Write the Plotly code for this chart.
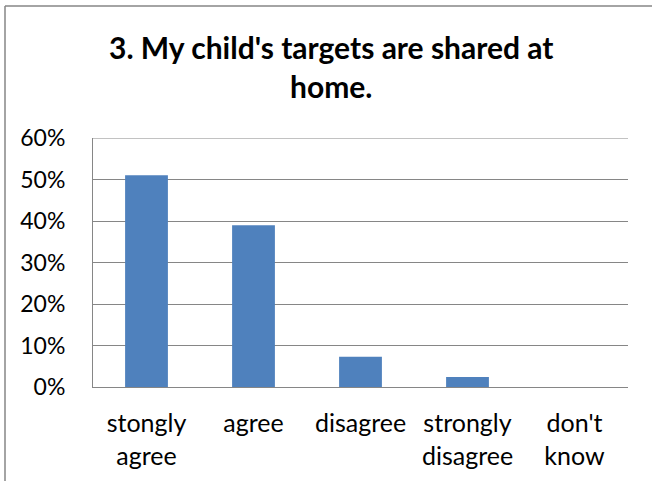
import plotly.graph_objects as go

categories = ["stongly<br>agree", "agree", "disagree", "strongly<br>disagree", "don't<br>know"]
values = [0.51, 0.39, 0.073, 0.024, 0.0]
y_ticks = [0, 0.1, 0.2, 0.3, 0.4, 0.5, 0.6]
y_tick_labels = ["0%", "10%", "20%", "30%", "40%", "50%", "60%"]
title_lines = ["3. My child's targets are shared at", "home."]

W, H = 652, 481
L, R, T, B = 93, 24, 138, 94
pw, ph = W - L - R, H - T - B

def px_x(x):
    return (x - L) / pw

def px_y(y):
    return (H - B - y) / ph

FONT = "Lato, Calibri, sans-serif"
GRID = "#868686"

fig = go.Figure(go.Bar(
    x=categories, y=values, width=0.4,
    marker=dict(color="#4F81BD", line=dict(width=0)),
))

fig.update_layout(
    width=W, height=H,
    margin=dict(l=L, r=R, t=T, b=B, pad=0),
    paper_bgcolor="white", plot_bgcolor="white",
    showlegend=False,
    font=dict(family=FONT, color="black"),
    xaxis=dict(
        showgrid=False, showline=True, linecolor=GRID, linewidth=1,
        ticks="", tickfont=dict(size=25, color="black"), ticklabelstandoff=14,
    ),
    yaxis=dict(
        range=[0, 0.6], tickvals=y_ticks, ticktext=y_tick_labels,
        showgrid=True, gridcolor=GRID, gridwidth=1,
        showline=True, linecolor=GRID, linewidth=1,
        ticks="", tickfont=dict(size=23, color="black"), ticklabelstandoff=22,
        zeroline=False,
    ),
    annotations=[
        dict(text="<b>" + title_lines[0] + "</b>", xref="paper", yref="paper",
             x=px_x(331), y=px_y(47), xanchor="center", yanchor="middle",
             showarrow=False, font=dict(size=30, family=FONT, color="black")),
        dict(text="<b>" + title_lines[1] + "</b>", xref="paper", yref="paper",
             x=px_x(331), y=px_y(86), xanchor="center", yanchor="middle",
             showarrow=False, font=dict(size=30, family=FONT, color="black")),
    ],
    shapes=[
        # top gridline at the end of the axis range
        dict(type="line", xref="x domain", yref="y",
             x0=0, x1=1, y0=y_ticks[-1], y1=y_ticks[-1],
             line=dict(color=GRID, width=1)),
        # chart-area border (left and top)
        dict(type="line", xref="paper", yref="paper",
             x0=px_x(5), x1=px_x(5), y0=px_y(6), y1=px_y(H + 2),
             line=dict(color=GRID, width=1.5)),
        dict(type="line", xref="paper", yref="paper",
             x0=px_x(5), x1=px_x(W + 2), y0=px_y(6), y1=px_y(6),
             line=dict(color=GRID, width=1.5)),
    ],
)

fig.write_html("out.html", config={"displayModeBar": False},
               post_script="document.body.style.margin='0';")
